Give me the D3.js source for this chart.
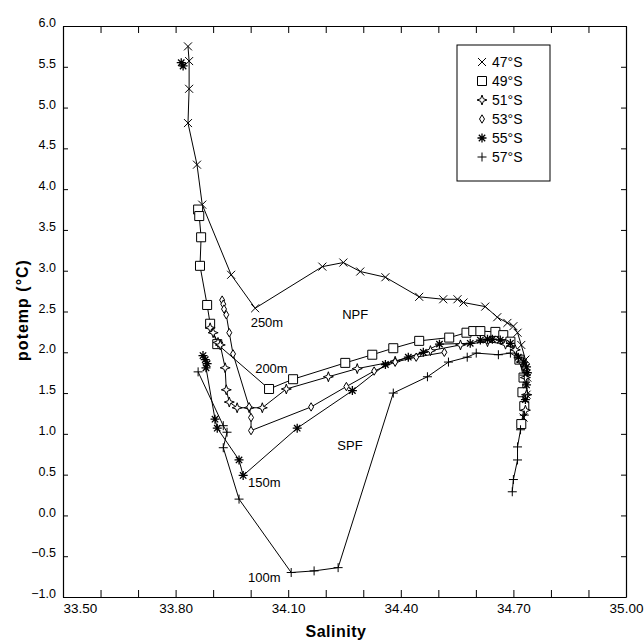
<!DOCTYPE html>
<html>
<head>
<meta charset="utf-8">
<script src="https://cdn.jsdelivr.net/npm/d3@7"></script>
<style>
  body { margin: 0; background: #fff; }
  text { font-family: "Liberation Sans", Arial, sans-serif; fill: #000; }
</style>
</head>
<body>
<div id="chart"></div>
<script>
// salinity / potential temperature profiles
var s47 = [33.833, 33.836, 33.836, 33.833, 33.857, 33.871, 33.948, 34.012, 34.191, 34.247, 34.292, 34.359, 34.449, 34.513, 34.551, 34.567, 34.625, 34.657, 34.684, 34.700, 34.711, 34.721, 34.732, 34.737, 34.735, 34.727];
var t47 = [5.75, 5.57, 5.23, 4.81, 4.30, 3.81, 2.95, 2.54, 3.05, 3.10, 2.99, 2.92, 2.68, 2.65, 2.65, 2.61, 2.56, 2.43, 2.36, 2.32, 2.24, 2.09, 1.91, 1.69, 1.48, 1.20];

var s49 = [33.860, 33.863, 33.868, 33.865, 33.884, 33.892, 33.911, 34.049, 34.113, 34.252, 34.324, 34.380, 34.449, 34.529, 34.575, 34.593, 34.612, 34.652, 34.673, 34.692, 34.716, 34.727, 34.724, 34.729, 34.721];
var t49 = [3.75, 3.67, 3.41, 3.06, 2.58, 2.35, 2.10, 1.55, 1.67, 1.87, 1.97, 2.05, 2.14, 2.18, 2.24, 2.26, 2.26, 2.25, 2.21, 2.13, 1.91, 1.69, 1.51, 1.34, 1.12];

var s51 = [33.892, 33.900, 33.913, 33.919, 33.932, 33.935, 33.943, 33.964, 33.996, 34.031, 34.095, 34.207, 34.284, 34.385, 34.479, 34.559, 34.631, 34.679, 34.705, 34.721, 34.732, 34.735, 34.732];
var t51 = [2.30, 2.24, 2.12, 2.09, 1.81, 1.54, 1.39, 1.32, 1.32, 1.32, 1.55, 1.70, 1.80, 1.89, 2.02, 2.09, 2.13, 2.10, 2.03, 1.88, 1.69, 1.48, 1.29];

var s53 = [33.924, 33.927, 33.929, 33.935, 33.943, 33.953, 33.996, 34.001, 34.001, 34.161, 34.255, 34.329, 34.385, 34.441, 34.516];
var t53 = [2.64, 2.59, 2.53, 2.46, 2.24, 1.98, 1.33, 1.20, 1.04, 1.33, 1.58, 1.77, 1.88, 1.94, 2.00];

// null = gap in the line (isolated surface reading)
var s55 = [33.815, 33.820, null, 33.873, 33.879, 33.884, 33.881, 33.905, 33.911, 33.969, 33.980, 34.124, 34.271, 34.359, 34.420, 34.460, 34.503, 34.585, 34.612, 34.631, 34.644, 34.665, 34.692, 34.713, 34.727, 34.735, 34.737, 34.735, 34.732];
var t55 = [5.55, 5.51, null, 1.96, 1.91, 1.86, 1.81, 1.18, 1.07, 0.68, 0.49, 1.07, 1.53, 1.85, 1.94, 2.00, 2.10, 2.11, 2.15, 2.16, 2.16, 2.15, 2.11, 1.94, 1.88, 1.82, 1.75, 1.60, 1.42];

var s57 = [33.860, 33.927, 33.937, 33.927, 33.969, 34.108, 34.169, 34.233, 34.380, 34.471, 34.527, 34.577, 34.601, 34.660, 34.692, 34.713, 34.729, 34.737, 34.729, 34.719, 34.711, 34.711, 34.700, 34.697];
var t57 = [1.76, 1.10, 1.02, 0.83, 0.20, -0.70, -0.68, -0.64, 1.50, 1.70, 1.88, 1.94, 1.99, 1.97, 1.99, 1.93, 1.72, 1.48, 1.23, 1.05, 0.84, 0.68, 0.44, 0.29];

var xTicks = d3.range(33.5, 35.001, 0.1);
var xLabels = [33.5, 33.8, 34.1, 34.4, 34.7, 35.0];
var yTicks = d3.range(-1, 6.001, 0.5);

var notes = [
  { text: "250m", s: 34.00, t: 2.31 },
  { text: "200m", s: 34.012, t: 1.74 },
  { text: "150m", s: 33.993, t: 0.35 },
  { text: "100m", s: 33.993, t: -0.81 },
  { text: "NPF", s: 34.244, t: 2.41 },
  { text: "SPF", s: 34.231, t: 0.80 }
];

var series = [
  { name: "47°S", sym: "x", s: s47, t: t47 },
  { name: "49°S", sym: "sq", s: s49, t: t49 },
  { name: "51°S", sym: "star4", s: s51, t: t51 },
  { name: "53°S", sym: "dia", s: s53, t: t53 },
  { name: "55°S", sym: "ast", s: s55, t: t55 },
  { name: "57°S", sym: "plus", s: s57, t: t57 }
];

function symPath(type) {
  switch (type) {
    case "x": return "M-4,-4L4,4M-4,4L4,-4";
    case "sq": return "M-4.5,-4.5h9v9h-9z";
    case "star4": return "M0,-5L1.3,-1.3L5,0L1.3,1.3L0,5L-1.3,1.3L-5,0L-1.3,-1.3Z";
    case "dia": return "M0,-4.2L2.5,0L0,4.2L-2.5,0Z";
    case "ast": return "M0,-4.5V4.5M-4.5,0H4.5M-3.2,-3.2L3.2,3.2M-3.2,3.2L3.2,-3.2";
    case "plus": return "M-4.5,0H4.5M0,-4.5V4.5";
  }
}

var width = 644, height = 641;
var svg = d3.select("#chart").append("svg")
  .attr("width", width)
  .attr("height", height);

var x = d3.scaleLinear().domain([33.5, 35]).range([63, 626]);
var y = d3.scaleLinear().domain([-1, 6]).range([597, 26]);

// axes
var xb = svg.append("g").attr("transform", "translate(0,597)")
  .call(d3.axisBottom(x).tickValues(xTicks).tickSize(-7).tickSizeOuter(0).tickPadding(6)
    .tickFormat(function(d) {
      var hit = xLabels.some(function(v) { return Math.abs(v - d) < 1e-6; });
      return hit ? d.toFixed(2) : "";
    }));
svg.append("g").attr("transform", "translate(0,26)")
  .call(d3.axisTop(x).tickValues(xTicks).tickSize(-7).tickSizeOuter(0).tickFormat(""));
var yl = svg.append("g").attr("transform", "translate(63,0)")
  .call(d3.axisLeft(y).tickValues(yTicks).tickSize(-5).tickSizeOuter(0).tickPadding(7)
    .tickFormat(d3.format(".1f")));
svg.append("g").attr("transform", "translate(626,0)")
  .call(d3.axisRight(y).tickValues(yTicks).tickSize(-5).tickSizeOuter(0).tickFormat(""));

svg.selectAll(".domain").attr("stroke", "#000").attr("stroke-width", 1.2);
svg.selectAll(".tick line").attr("stroke", "#000");
svg.selectAll(".tick text")
  .style("font-family", "Liberation Sans, Arial, sans-serif")
  .attr("fill", "#000");
xb.selectAll(".tick text").style("font-size", "13.5px");
yl.selectAll(".tick text").style("font-size", "12.5px").attr("dy", "0.05em");
xb.selectAll(".tick text").filter(function(d) { return Math.abs(d - 33.5) < 1e-6; })
  .attr("text-anchor", "start");

// profiles
var line = d3.line()
  .defined(function(d) { return d[0] != null; })
  .x(function(d) { return x(d[0]); })
  .y(function(d) { return y(d[1]); });

series.forEach(function(sr) {
  var pts = sr.s.map(function(v, i) { return [v, sr.t[i]]; });
  svg.append("path")
    .datum(pts)
    .attr("d", line)
    .attr("fill", "none")
    .attr("stroke", "#000")
    .attr("stroke-width", 1);
});

series.forEach(function(sr) {
  var pts = sr.s.map(function(v, i) { return [v, sr.t[i]]; })
    .filter(function(d) { return d[0] != null; });
  svg.append("g").selectAll("path")
    .data(pts)
    .enter().append("path")
    .attr("transform", function(d) { return "translate(" + x(d[0]) + "," + y(d[1]) + ")"; })
    .attr("d", symPath(sr.sym))
    .attr("fill", sr.sym == "sq" || sr.sym == "star4" || sr.sym == "dia" ? "#fff" : "none")
    .attr("stroke", "#000")
    .attr("stroke-width", sr.sym == "ast" ? 1.3 : 1);
});

// depth / front labels
svg.selectAll(".note")
  .data(notes)
  .enter().append("text")
  .attr("class", "note")
  .attr("x", function(d) { return x(d.s); })
  .attr("y", function(d) { return y(d.t); })
  .style("font-size", "13px")
  .text(function(d) { return d.text; });

// axis titles
svg.append("text")
  .attr("x", 336).attr("y", 637)
  .attr("text-anchor", "middle")
  .style("font-size", "16px").style("font-weight", "bold")
  .style("letter-spacing", "0.5px")
  .text("Salinity");
svg.append("text")
  .attr("transform", "translate(28,310) rotate(-90)")
  .attr("text-anchor", "middle")
  .style("font-size", "16px").style("font-weight", "bold")
  .style("letter-spacing", "1px")
  .text("potemp (°C)");

// legend
var lg = svg.append("g");
lg.append("rect")
  .attr("x", 457).attr("y", 45).attr("width", 93).attr("height", 136)
  .attr("fill", "#fff").attr("stroke", "#000").attr("stroke-width", 1);
series.forEach(function(sr, i) {
  var yy = 62 + i * 19;
  lg.append("path")
    .attr("transform", "translate(482," + yy + ")")
    .attr("d", symPath(sr.sym))
    .attr("fill", "none")
    .attr("stroke", "#000")
    .attr("stroke-width", sr.sym == "ast" ? 1.3 : 1);
  lg.append("text")
    .attr("x", 492).attr("y", yy + 5)
    .style("font-size", "14px")
    .text(sr.name);
});
</script>
</body>
</html>
